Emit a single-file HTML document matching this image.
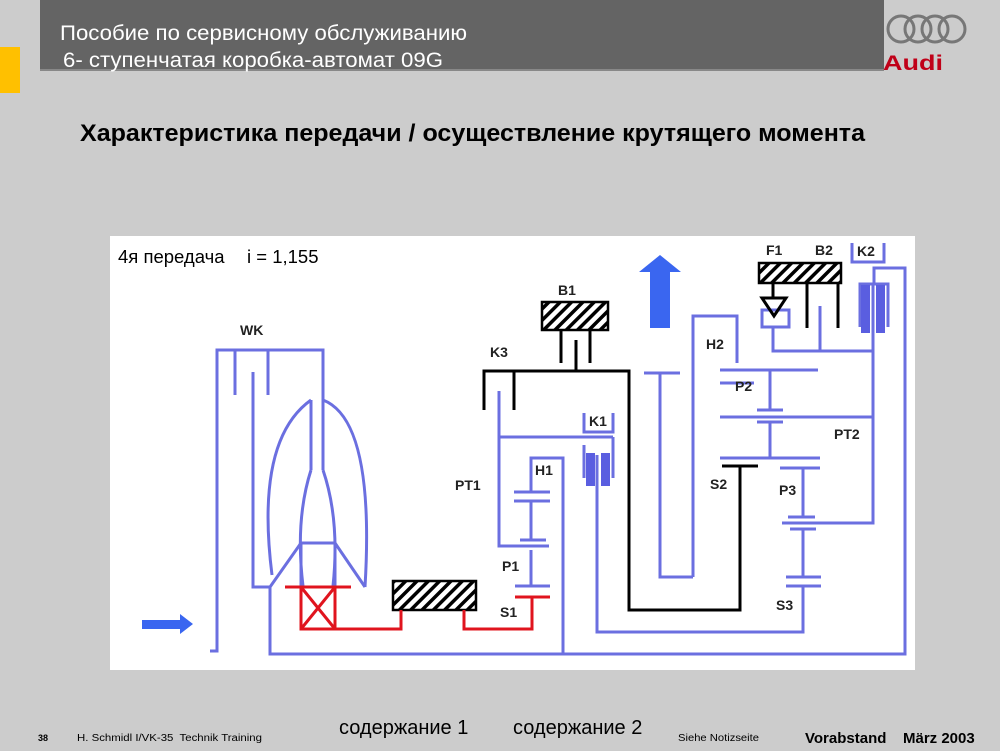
<!DOCTYPE html>
<html><head><meta charset="utf-8"><style>
body{margin:0;background:#cccccc;}
svg{display:block}
text{font-family:"Liberation Sans",Arial,sans-serif;white-space:pre}
</style></head><body>
<svg width="1000" height="751" viewBox="0 0 1000 751" xmlns="http://www.w3.org/2000/svg">
<defs>
<pattern id="h" width="8" height="8" patternUnits="userSpaceOnUse" patternTransform="rotate(45)">
<rect width="8" height="8" fill="#fff"/><rect width="3.5" height="8" fill="#000"/></pattern>
</defs>
<rect width="1000" height="751" fill="#cccccc"/>
<rect x="40" y="0" width="844" height="70" fill="#646464"/>
<rect x="40" y="69" width="844" height="2" fill="#888"/>
<rect x="0" y="47" width="20" height="46" fill="#ffc000"/>
<text x="60" y="40" fill="#fff" font-size="21" textLength="407" lengthAdjust="spacingAndGlyphs">Пособие по сервисному обслуживанию</text>
<text x="63" y="67" fill="#fff" font-size="21" textLength="380" lengthAdjust="spacingAndGlyphs">6- ступенчатая коробка-автомат 09G</text>
<g fill="none" stroke="#777" stroke-width="3">
<circle cx="901" cy="29" r="13"/><circle cx="918" cy="29" r="13"/><circle cx="935" cy="29" r="13"/><circle cx="952" cy="29" r="13"/></g>
<text x="883" y="70" fill="#c00018" font-size="21" font-weight="bold" textLength="60" lengthAdjust="spacingAndGlyphs">Audi</text>
<text x="80" y="141" font-size="24" font-weight="bold" fill="#000" textLength="785" lengthAdjust="spacingAndGlyphs">Характеристика передачи / осуществление крутящего момента</text>
<rect x="110" y="236" width="805" height="434" fill="#fff"/>
<text x="118" y="263" font-size="18.5" fill="#000">4я передача</text>
<text x="247" y="263" font-size="18.5" fill="#000">i = 1,155</text>

<g stroke="#6b6fe0" stroke-width="3" fill="none">
<polyline points="210,651 217,651 217,350 323,350 323,470"/>
<line x1="235" y1="350" x2="235" y2="395"/>
<line x1="268" y1="350" x2="268" y2="395"/>
<polyline points="253,372 253,587 270,587"/>
<line x1="311" y1="400" x2="311" y2="470"/>
<path d="M311,400 Q255,440 272,575"/>
<path d="M323,400 Q375,420 365,587"/>
<path d="M311,470 Q295,520 303,586"/>
<path d="M323,470 Q340,520 333,586"/>
<line x1="301" y1="543" x2="335" y2="543"/>
<line x1="301" y1="543" x2="301" y2="587"/>
<line x1="335" y1="543" x2="335" y2="587"/>
<polyline points="301,543 270,587 270,654 905,654 905,268 874,268 874,285"/>
<line x1="335" y1="543" x2="365" y2="587"/>
<polyline points="499,391 499,546 549,546"/>
<line x1="499" y1="437" x2="613" y2="437"/>
<polyline points="531,492 531,458 563,458 563,654"/>
<line x1="514" y1="492" x2="550" y2="492"/>
<line x1="514" y1="501" x2="550" y2="501"/>
<line x1="531" y1="501" x2="531" y2="540"/>
<line x1="520" y1="540" x2="546" y2="540"/>
<line x1="531" y1="550" x2="531" y2="586"/>
<line x1="515" y1="586" x2="550" y2="586"/>
<polyline points="584,413 584,432 613,432 613,413"/>
<line x1="613" y1="437" x2="613" y2="478"/>
<line x1="584" y1="445" x2="584" y2="478"/>
<polyline points="597,455 597,632 803,632 803,586"/>
<polyline points="693,577 693,316 737,316 737,363"/>
<line x1="720" y1="383" x2="754" y2="383"/>
<polyline points="644,373 680,373"/><polyline points="660,373 660,577 693,577"/>
<line x1="720" y1="370" x2="818" y2="370"/>
<line x1="770" y1="370" x2="770" y2="410"/>
<line x1="757" y1="410" x2="783" y2="410"/>
<line x1="757" y1="422" x2="783" y2="422"/>
<line x1="770" y1="422" x2="770" y2="458"/>
<line x1="720" y1="417" x2="873" y2="417"/>
<line x1="720" y1="458" x2="820" y2="458"/>
<line x1="780" y1="468" x2="820" y2="468"/>
<line x1="803" y1="468" x2="803" y2="517"/>
<line x1="788" y1="517" x2="815" y2="517"/>
<polyline points="782,523 873,523 873,285"/>
<line x1="790" y1="529" x2="816" y2="529"/>
<line x1="803" y1="529" x2="803" y2="577"/>
<line x1="786" y1="577" x2="821" y2="577"/>
<line x1="786" y1="586" x2="821" y2="586"/>
<polyline points="852,243 852,262 884,262 884,243"/>
<polyline points="860,327 860,284 888,284 888,327"/>
<polyline points="773,328 773,351 873,351"/>
<line x1="820" y1="306" x2="820" y2="351"/>
<rect x="762" y="310" width="27" height="17"/>
</g>
<g fill="#5a5ee0">
<rect x="586" y="453" width="9" height="33"/><rect x="601" y="453" width="9" height="33"/>
<rect x="861" y="285" width="9" height="48"/><rect x="876" y="285" width="9" height="48"/>
</g>
<g stroke="#000" stroke-width="3" fill="none">
<polyline points="484,410 484,371 629,371 629,610 740,610 740,466"/>
<line x1="722" y1="466" x2="758" y2="466"/>
<line x1="514" y1="371" x2="514" y2="410"/>
<line x1="561" y1="330" x2="561" y2="363"/>
<line x1="576" y1="340" x2="576" y2="371"/>
<line x1="590" y1="330" x2="590" y2="363"/>
<line x1="807" y1="283" x2="807" y2="328"/>
<line x1="838" y1="283" x2="838" y2="328"/>
<line x1="773" y1="283" x2="773" y2="298"/>
<polygon points="762,298 786,298 774,316"/>
</g>
<rect x="542" y="302" width="66" height="28" fill="url(#h)" stroke="#000" stroke-width="2.5"/>
<rect x="759" y="263" width="82" height="20" fill="url(#h)" stroke="#000" stroke-width="2.5"/>
<rect x="393" y="581" width="83" height="29" fill="url(#h)" stroke="#000" stroke-width="2.5"/>
<g stroke="#e0141e" stroke-width="3" fill="none">
<line x1="285" y1="587" x2="351" y2="587"/>
<rect x="301" y="587" width="34" height="42"/>
<line x1="301" y1="587" x2="335" y2="629"/><line x1="335" y1="587" x2="301" y2="629"/>
<polyline points="335,629 401,629 401,610"/>
<polyline points="464,610 464,629 532,629 532,597"/>
<line x1="515" y1="597" x2="550" y2="597"/>
</g>
<polygon fill="#3a66f0" points="650,328 670,328 670,272 681,272 660,255 639,272 650,272"/>
<polygon fill="#3a66f0" points="142,620 180,620 180,614 193,624 180,634 180,629 142,629"/>
<g font-size="14" font-weight="bold" fill="#222">
<text x="240" y="335">WK</text>
<text x="558" y="295">B1</text>
<text x="490" y="357">K3</text>
<text x="706" y="349">H2</text>
<text x="735" y="391">P2</text>
<text x="589" y="426">K1</text>
<text x="834" y="439">PT2</text>
<text x="535" y="475">H1</text>
<text x="710" y="489">S2</text>
<text x="779" y="495">P3</text>
<text x="455" y="490">PT1</text>
<text x="502" y="571">P1</text>
<text x="500" y="617">S1</text>
<text x="776" y="610">S3</text>
<text x="766" y="255">F1</text>
<text x="815" y="255">B2</text>
<text x="857" y="256">K2</text>
</g>
<text x="38" y="741" font-size="9" font-weight="bold">38</text>
<text x="77" y="741" font-size="10" textLength="185" lengthAdjust="spacingAndGlyphs">H. Schmidl I/VK-35  Technik Training</text>
<text x="339" y="734" font-size="20">содержание 1</text>
<text x="513" y="734" font-size="20">содержание 2</text>
<text x="678" y="741" font-size="10" textLength="81" lengthAdjust="spacingAndGlyphs">Siehe Notizseite</text>
<text x="805" y="743" font-size="15" font-weight="bold">Vorabstand</text>
<text x="903" y="743" font-size="15" font-weight="bold">März 2003</text>
</svg>
</body></html>
